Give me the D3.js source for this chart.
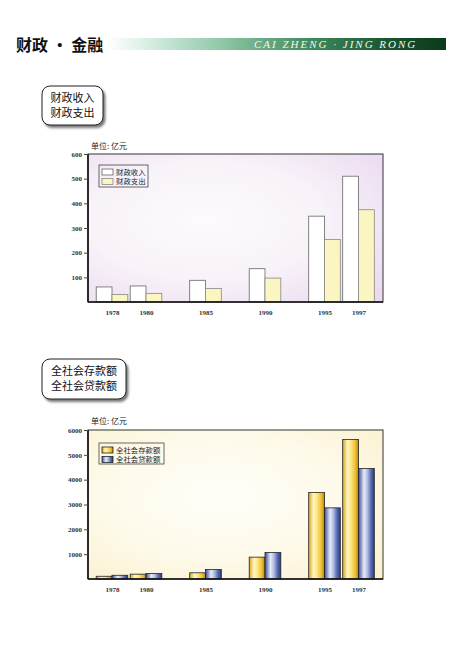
<!DOCTYPE html>
<html><head><meta charset="utf-8">
<script src="https://cdn.jsdelivr.net/npm/d3@7/dist/d3.min.js"></script>
<style>html,body{margin:0;padding:0;background:#fff;}svg{display:block;}</style>
</head><body>
<script>
// ---- data ----
const years = [1978, 1980, 1985, 1990, 1995, 1997];
const yearLabels = ["1978", "1980", "1985", "1990", "1995", "1997"];
const fiscalRevenue = [61, 65, 88, 135, 348, 510];
const fiscalExpenditure = [30, 35, 55, 97, 253, 374];
const fiscalTicks = [100, 200, 300, 400, 500, 600];
const deposits = [110, 195, 250, 880, 3480, 5620];
const loans = [150, 220, 380, 1065, 2865, 4450];
const financeTicks = [1000, 2000, 3000, 4000, 5000, 6000];
const seriesNames1 = ["财政收入", "财政支出"];
const seriesNames2 = ["全社会存款额", "全社会贷款额"];

const W = 450, H = 657;
const svg = d3.select("body").append("svg").attr("width", W).attr("height", H);
const defs = svg.append("defs");
const CJK = "'Noto Sans CJK SC', 'Noto Sans', sans-serif";
const SERIF = "'Liberation Serif', 'DejaVu Serif', serif";

// gradients
const hdr = defs.append("linearGradient").attr("id", "hdr");
[[0, "#ffffff"], [0.12, "#d6eee2"], [0.35, "#8cc4a4"], [0.6, "#3f8a5c"], [0.85, "#16502c"], [1, "#0c3a1c"]]
  .forEach(([o, c]) => hdr.append("stop").attr("offset", o).attr("stop-color", c));
const bg1 = defs.append("radialGradient").attr("id", "bg1").attr("cx", 0.4).attr("cy", 0.45).attr("r", 0.8);
[[0, "#fdfbfd"], [0.5, "#f8f2f9"], [1, "#e9d8ef"]].forEach(([o, c]) => bg1.append("stop").attr("offset", o).attr("stop-color", c));
const bg2 = defs.append("radialGradient").attr("id", "bg2").attr("cx", 0.45).attr("cy", 0.45).attr("r", 0.75);
[[0, "#fffef8"], [0.55, "#fefaea"], [1, "#fbf1cf"]].forEach(([o, c]) => bg2.append("stop").attr("offset", o).attr("stop-color", c));
const gy = defs.append("linearGradient").attr("id", "gy");
[[0, "#d9a41c"], [0.3, "#fff6c4"], [0.5, "#fde98a"], [0.8, "#eebf30"], [1, "#b88410"]].forEach(([o, c]) => gy.append("stop").attr("offset", o).attr("stop-color", c));
const gb = defs.append("linearGradient").attr("id", "gb");
[[0, "#3a4f9c"], [0.35, "#e8ecf8"], [0.55, "#b4c0e4"], [0.8, "#5568b0"], [1, "#2a3c86"]].forEach(([o, c]) => gb.append("stop").attr("offset", o).attr("stop-color", c));
const sh = defs.append("filter").attr("id", "sh").attr("x", "-20%").attr("y", "-20%").attr("width", "150%").attr("height", "160%");
sh.append("feDropShadow").attr("dx", 2).attr("dy", 2.5).attr("stdDeviation", 1.2).attr("flood-color", "#333").attr("flood-opacity", 0.65);

// ---- header ----
svg.append("text").attr("x", 16).attr("y", 51).text("财政 · 金融")
  .attr("font-family", CJK).attr("font-size", 16).attr("font-weight", 700).attr("fill", "#111");
svg.append("rect").attr("x", 108).attr("y", 38).attr("width", 338).attr("height", 12).attr("fill", "url(#hdr)");
svg.append("text").attr("x", 254).attr("y", 48).text("CAI ZHENG · JING RONG")
  .attr("font-family", SERIF).attr("font-style", "italic").attr("font-size", 11).attr("letter-spacing", 2)
  .attr("fill", "#f2f7f2");

// ---- title boxes ----
function titleBox(x, y, w, h, lines, fs, lh) {
  const g = svg.append("g");
  g.append("rect").attr("x", x).attr("y", y).attr("width", w).attr("height", h).attr("rx", 8)
    .attr("fill", "#fff").attr("stroke", "#222").attr("stroke-width", 1).attr("filter", "url(#sh)");
  lines.forEach((t, i) => g.append("text").attr("x", x + w / 2).attr("y", y + h / 2 + (i - 0.5) * lh + fs * 0.36)
    .attr("text-anchor", "middle").attr("font-family", CJK).attr("font-size", fs).attr("fill", "#111").text(t));
}
titleBox(42, 86, 61, 39, seriesNames1, 11, 15);
titleBox(42, 359, 84, 40, seriesNames2, 11, 15);

// ---- chart builder ----
function slotsOf(ys) {
  const s = [0];
  for (let i = 1; i < ys.length; i++) s.push(s[i - 1] + (ys[i] - ys[i - 1] <= 2 ? 1 : 1.75));
  return s;
}
function chart(opt) {
  const { left, right, top, bottom, vmax, ticks, a, b, names, bgId, fillA, fillB, strokeA, strokeB, unitY, legend } = opt;
  const g = svg.append("g");
  const slots = slotsOf(years);
  const x = d3.scaleLinear().domain([0, d3.max(slots)]).range([left + 24, right - 24.5]);
  const y = d3.scaleLinear().domain([0, vmax]).range([bottom, top]);
  const bw = 15.8;
  g.append("rect").attr("x", left).attr("y", top).attr("width", right - left).attr("height", bottom - top)
    .attr("fill", `url(#${bgId})`);
  // bars
  g.selectAll(".ba").data(a).join("rect").attr("x", (d, i) => x(slots[i]) - bw).attr("y", d => y(d))
    .attr("width", bw).attr("height", d => bottom - y(d)).attr("fill", fillA).attr("stroke", strokeA).attr("stroke-width", 0.8);
  g.selectAll(".bb").data(b).join("rect").attr("x", (d, i) => x(slots[i])).attr("y", d => y(d))
    .attr("width", bw).attr("height", d => bottom - y(d)).attr("fill", fillB).attr("stroke", strokeB).attr("stroke-width", 0.8);
  // frame
  g.append("rect").attr("x", left).attr("y", top).attr("width", right - left).attr("height", bottom - top)
    .attr("fill", "none").attr("stroke", "#333").attr("stroke-width", 1);
  g.append("line").attr("x1", left).attr("x2", left).attr("y1", top).attr("y2", bottom).attr("stroke", "#111").attr("stroke-width", 1.6);
  g.append("line").attr("x1", left).attr("x2", right).attr("y1", bottom).attr("y2", bottom).attr("stroke", "#111").attr("stroke-width", 1.6);
  // y axis
  const ya = g.append("g").attr("transform", `translate(${left},0)`)
    .call(d3.axisLeft(y).tickValues(ticks).tickFormat(d3.format("d")).tickSize(4).tickPadding(2));
  ya.select(".domain").remove();
  ya.selectAll("line").attr("stroke", "#444");
  ya.selectAll("text").attr("font-family", SERIF).attr("font-weight", 700).attr("font-size", 7).attr("fill", "#333");
  // x axis
  const xa = g.append("g").attr("transform", `translate(0,${bottom})`)
    .call(d3.axisBottom(x).tickValues(slots).tickFormat((d, i) => yearLabels[i]).tickSize(0).tickPadding(8));
  xa.select(".domain").remove();
  xa.selectAll("text").attr("font-family", SERIF).attr("font-weight", 700).attr("font-size", 7).attr("fill", "#333");
  // unit
  g.append("text").attr("x", left + 3).attr("y", unitY).text("单位: 亿元")
    .attr("font-family", CJK).attr("font-size", 8).attr("fill", "#222");
  // legend
  const lg = g.append("g");
  lg.append("rect").attr("x", legend.x).attr("y", legend.y).attr("width", legend.w).attr("height", legend.h)
    .attr("fill", "none").attr("stroke", "#444").attr("stroke-width", 0.8);
  [[fillA, strokeA], [fillB, strokeB]].forEach(([f, s], i) => {
    const yy = legend.y + 4 + i * 9.5;
    lg.append("rect").attr("x", legend.x + 3).attr("y", yy).attr("width", 11).attr("height", 6)
      .attr("fill", f).attr("stroke", s).attr("stroke-width", 0.8);
    lg.append("text").attr("x", legend.x + 17).attr("y", yy + 5.8).text(names[i])
      .attr("font-family", CJK).attr("font-size", 7.4).attr("fill", "#222");
  });
}

chart({ left: 88, right: 383, top: 154, bottom: 302, vmax: 600, ticks: fiscalTicks,
  a: fiscalRevenue, b: fiscalExpenditure, names: seriesNames1, bgId: "bg1",
  fillA: "#ffffff", fillB: "#fbf5c2", strokeA: "#666", strokeB: "#888", unitY: 149,
  legend: { x: 99, y: 165, w: 49, h: 22 } });

chart({ left: 88, right: 383, top: 430, bottom: 579, vmax: 6000, ticks: financeTicks,
  a: deposits, b: loans, names: seriesNames2, bgId: "bg2",
  fillA: "url(#gy)", fillB: "url(#gb)", strokeA: "#222", strokeB: "#222", unitY: 424,
  legend: { x: 99, y: 443, w: 65, h: 21 } });
</script>
</body></html>
